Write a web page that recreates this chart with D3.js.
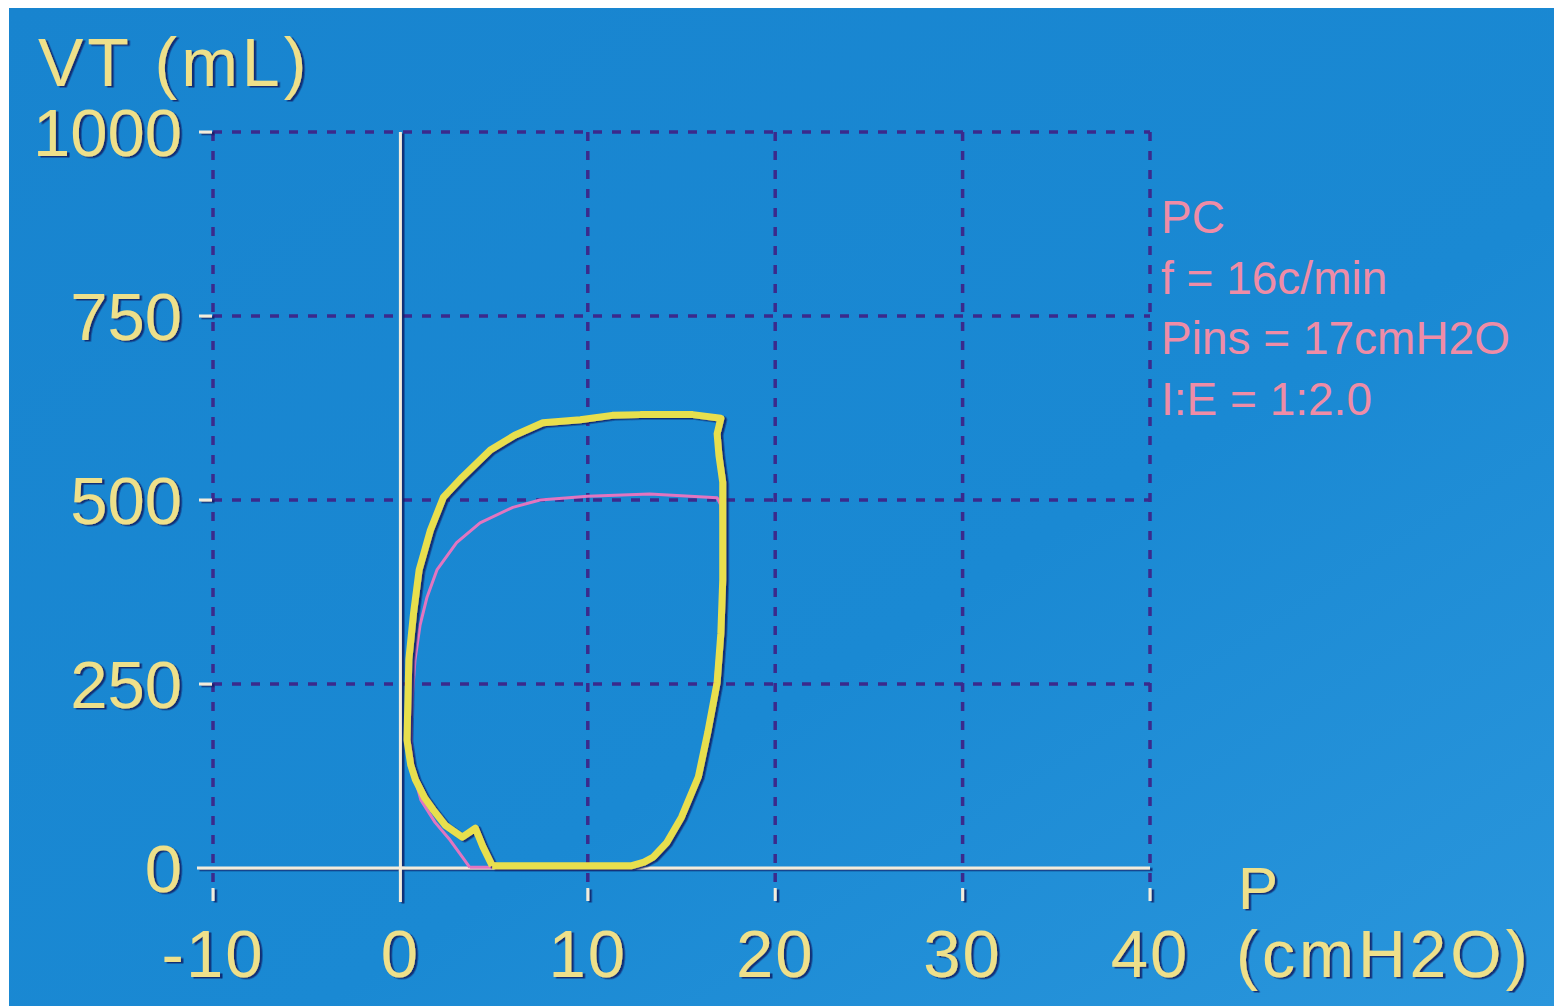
<!DOCTYPE html>
<html>
<head>
<meta charset="utf-8">
<script src="https://cdn.jsdelivr.net/npm/d3@7"></script>
<style>
  html, body { margin: 0; padding: 0; background: #ffffff; }
  svg { display: block; }
  text { font-family: "Liberation Sans", Arial, sans-serif; }
</style>
</head>
<body>
<svg id="chart" width="1554" height="1008"></svg>
<script>
// Axis ticks
const pressureTicks = [-10, 0, 10, 20, 30, 40];
const volumeTicks = [0, 250, 500, 750, 1000];

// Ventilator settings shown beside the plot
const settingLines = ["PC", "f = 16c/min", "Pins = 17cmH2O", "I:E = 1:2.0"];

// Current pressure-volume loop (cmH2O, mL)
const currentP  = [4.9, 8.5, 12.3, 13.0, 13.5, 14.2, 15.0, 15.9, 16.4, 16.9, 17.1, 17.2, 17.2, 17.2, 17.0, 16.9, 17.1, 15.6, 12.8, 11.3, 9.6, 7.6, 6.1, 4.8, 3.3, 2.3, 1.6, 1.0, 0.7, 0.45, 0.4, 0.35, 0.55, 0.8, 1.3, 1.75, 2.4, 3.3, 4.0, 4.4, 4.9];
const currentVT = [3, 3, 3, 8, 15, 34, 69, 124, 184, 252, 319, 391, 473, 524, 560, 590, 611, 616, 616, 615, 609, 605, 588, 568, 531, 504, 459, 405, 346, 283, 228, 174, 140, 120, 95, 79, 58, 42, 54, 29, 3];

// Reference loop (cmH2O, mL)
const refP  = [3.7, 4.8, 12.8, 13.3, 14.2, 15.0, 15.8, 16.4, 16.8, 17.05, 17.2, 17.1, 16.9, 13.3, 10.0, 7.45, 6.0, 4.25, 3.0, 1.95, 1.42, 1.05, 0.78, 0.62, 0.57, 0.73, 1.1, 1.85, 2.65, 3.3, 3.7];
const refVT = [1, 1, 3, 8, 31, 67, 120, 181, 252, 319, 418, 493, 503, 508, 505, 500, 490, 469, 442, 405, 368, 330, 283, 228, 174, 126, 92, 62, 38, 15, 1];

const svg = d3.select("#chart");
const W = 1554;

const x = d3.scaleLinear().domain([-10, 40]).range([213, 1150]);
const y = d3.scaleLinear().domain([0, 1000]).range([868, 132]);

// Screen background and glow shadow
const defs = svg.append("defs");
const grad = defs.append("linearGradient").attr("id", "screen")
  .attr("x1", "0").attr("y1", "0").attr("x2", "1").attr("y2", "1");
grad.append("stop").attr("offset", "0").attr("stop-color", "#1884cf");
grad.append("stop").attr("offset", "0.6").attr("stop-color", "#1a89d3");
grad.append("stop").attr("offset", "1").attr("stop-color", "#2a96dc");

const shadow = defs.append("filter").attr("id", "shade")
  .attr("x", "-10%").attr("y", "-10%").attr("width", "130%").attr("height", "130%");
shadow.append("feDropShadow").attr("dx", 2.5).attr("dy", 1.5).attr("stdDeviation", 0.6)
  .attr("flood-color", "#0d2466").attr("flood-opacity", 0.85);

svg.append("rect").attr("x", 9).attr("y", 8).attr("width", W - 9).attr("height", 998)
  .attr("fill", "url(#screen)");

// Dashed grid
const gridColor = "#3b2a8c";
const grid = svg.append("g");
grid.selectAll("line.h").data(volumeTicks.filter(v => v > 0)).join("line")
  .attr("x1", x(-10)).attr("x2", x(40))
  .attr("y1", d => y(d)).attr("y2", d => y(d))
  .attr("stroke", gridColor).attr("stroke-width", 3.5).attr("stroke-dasharray", "9,10");
grid.selectAll("line.v").data(pressureTicks.filter(p => p !== 0)).join("line")
  .attr("x1", d => x(d)).attr("x2", d => x(d))
  .attr("y1", y(1000)).attr("y2", y(0) + 18)
  .attr("stroke", gridColor).attr("stroke-width", 3.5).attr("stroke-dasharray", "9,10");

// Axes and tick marks
const axisColor = "#f3ecdc";
const axes = svg.append("g").attr("filter", "url(#shade)");
axes.append("line").attr("x1", x(0)).attr("x2", x(0)).attr("y1", y(1000)).attr("y2", y(0) + 34)
  .attr("stroke", axisColor).attr("stroke-width", 3);
axes.append("line").attr("x1", 197).attr("x2", x(40)).attr("y1", y(0)).attr("y2", y(0))
  .attr("stroke", axisColor).attr("stroke-width", 3);
axes.selectAll("line.yt").data(volumeTicks.filter(v => v > 0)).join("line")
  .attr("x1", 199).attr("x2", 212).attr("y1", d => y(d)).attr("y2", d => y(d))
  .attr("stroke", axisColor).attr("stroke-width", 3);
axes.selectAll("line.xt").data(pressureTicks.filter(p => p !== 0)).join("line")
  .attr("x1", d => x(d)).attr("x2", d => x(d)).attr("y1", y(0) + 20).attr("y2", y(0) + 33)
  .attr("stroke", axisColor).attr("stroke-width", 3);

// Loops
const line = d3.line().x(d => x(d[0])).y(d => y(d[1]));
const refPts = refP.map((p, i) => [p, refVT[i]]);
const curPts = currentP.map((p, i) => [p, currentVT[i]]);

svg.append("path").attr("d", line(refPts))
  .attr("fill", "none").attr("stroke", "#e275c0").attr("stroke-width", 3)
  .attr("stroke-linejoin", "round");
svg.append("path").attr("d", line(curPts))
  .attr("fill", "none").attr("stroke", "#e8df4e").attr("stroke-width", 7)
  .attr("stroke-linejoin", "round").attr("filter", "url(#shade)");

// Labels
const labelColor = "#eee08a";
const labels = svg.append("g").attr("fill", labelColor).attr("filter", "url(#shade)");

labels.append("text").attr("x", 38).attr("y", 86)
  .attr("font-size", 68).attr("letter-spacing", 4).text("VT (mL)");

labels.selectAll("text.yl").data(volumeTicks).join("text")
  .attr("x", 182).attr("y", d => y(d) + 24)
  .attr("text-anchor", "end").attr("font-size", 67)
  .text(d => d);

labels.selectAll("text.xl").data(pressureTicks).join("text")
  .attr("x", d => x(d)).attr("y", 977)
  .attr("text-anchor", "middle").attr("font-size", 67).attr("letter-spacing", 2)
  .text(d => d);

labels.append("text").attr("x", 1238).attr("y", 909)
  .attr("font-size", 60).text("P");
labels.append("text").attr("x", 1236).attr("y", 977)
  .attr("font-size", 66).attr("letter-spacing", 4).text("(cmH2O)");

// Settings block
svg.append("g").selectAll("text").data(settingLines).join("text")
  .attr("x", 1161).attr("y", (d, i) => 233 + i * 60.5)
  .attr("font-size", 46).attr("fill", "#ef8ca6")
  .text(d => d);
</script>
</body>
</html>
